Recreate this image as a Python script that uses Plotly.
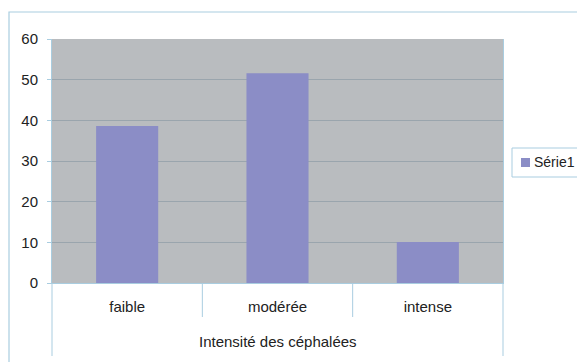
import plotly.graph_objects as go

# Headache intensity distribution
categories = ["faible", "modérée", "intense"]
values = [38.6, 51.6, 10.1]
series_name = "Série1"
x_title = "Intensité des céphalées"
y_ticks = [0, 10, 20, 30, 40, 50, 60]

W, H = 577, 362
L, R, T, B = 52, 503, 39, 283  # plot area in pixels
pw, ph = R - L, B - T


def px(x):
    return (x - L) / pw


def py(y):
    return (B - y) / ph


FONT = "Liberation Sans, Arial, sans-serif"
BAR = "#8b8dc6"
PLOT_BG = "#b9bcbf"
GRID = "#9aa5ad"
LINE = "#a9cde0"

fig = go.Figure(
    go.Bar(
        x=categories,
        y=values,
        name=series_name,
        marker=dict(color=BAR, line=dict(width=0)),
        showlegend=False,
    )
)

shapes = []
# outer chart frame
shapes.append(dict(type="rect", xref="paper", yref="paper",
                   x0=px(9), x1=px(590), y0=py(372), y1=py(12),
                   line=dict(color=LINE, width=1.2), layer="below"))
# category separators below the plot area
for i, xp in enumerate([0, 1 / 3, 2 / 3, 1]):
    ybot = py(356) if i in (0, 3) else py(317)
    shapes.append(dict(type="line", xref="paper", yref="paper",
                       x0=xp, x1=xp, y0=0, y1=ybot,
                       line=dict(color=LINE, width=1)))
# legend box and swatch
shapes.append(dict(type="rect", xref="paper", yref="paper",
                   x0=px(512), x1=px(590), y0=py(177), y1=py(148),
                   line=dict(color=LINE, width=1), fillcolor="white"))
shapes.append(dict(type="rect", xref="paper", yref="paper",
                   x0=px(521), x1=px(530), y0=py(167), y1=py(158),
                   line=dict(width=0), fillcolor=BAR))

annotations = [
    dict(text=series_name, xref="paper", yref="paper", x=px(532), y=py(162),
         xanchor="left", yanchor="middle", showarrow=False,
         font=dict(family=FONT, size=14, color="#222")),
    dict(text=x_title, xref="paper", yref="paper", x=0.5, y=py(341),
         xanchor="center", yanchor="middle", showarrow=False,
         font=dict(family=FONT, size=15, color="#222")),
]

fig.update_layout(
    width=W, height=H,
    margin=dict(l=L, r=W - R, t=T, b=H - B, pad=0),
    paper_bgcolor="white",
    plot_bgcolor=PLOT_BG,
    bargap=0.587,
    showlegend=False,
    shapes=shapes,
    annotations=annotations,
    font=dict(family=FONT, size=15, color="#222"),
)
fig.update_xaxes(
    range=[-0.5, 2.5], showgrid=False, zeroline=False,
    showline=True, linecolor=LINE, linewidth=1, mirror=False,
    ticks="", tickfont=dict(family=FONT, size=15, color="#222"),
    ticklabelstandoff=10,
)
fig.update_yaxes(
    range=[0, 60], tickvals=y_ticks, showgrid=True, gridcolor=GRID, gridwidth=1,
    zeroline=False, showline=True, linecolor=LINE, linewidth=1, mirror=True,
    ticks="outside", ticklen=4, tickcolor=LINE,
    tickfont=dict(family=FONT, size=15, color="#222"),
    ticklabelstandoff=6,
)

fig.write_html("out.html")
